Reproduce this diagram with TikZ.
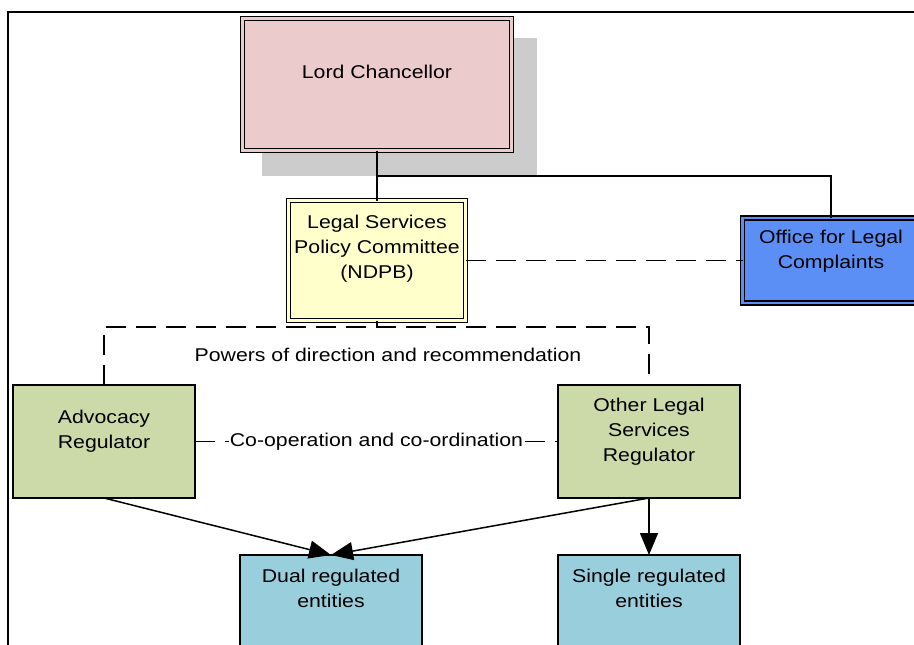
\documentclass[tikz,border=0pt]{standalone}
\usepackage{fontspec}
\setmainfont{Liberation Sans}[FakeStretch=1.15]
\usetikzlibrary{positioning,arrows.meta}
\definecolor{lcpink}{HTML}{EBCBCB}
\definecolor{lspyellow}{HTML}{FFFFCC}
\definecolor{olcblue}{HTML}{5B8FF5}
\definecolor{reggreen}{HTML}{CCDAAA}
\definecolor{entblue}{HTML}{99CFDC}
\definecolor{shadowgrey}{HTML}{CCCCCC}
\tikzset{
  box/.style={rectangle, draw, line width=1.5pt, outer sep=0pt, inner sep=0pt},
  dbox/.style={box, double distance=2.5pt},
  txt/.style={anchor=north, align=center, inner sep=0pt},
  dashline/.style={dash pattern=on 20pt off 10pt}
}

\begin{document}
\begin{tikzpicture}[x=1pt,y=-1pt,line width=1.5pt,>={Triangle[length=22pt,width=18pt]},font=\fontsize{18.5}{25}\selectfont]
  \clip (0,0) rectangle (914,645);
  \draw[line width=2pt] (8,645) -- (8,12) -- (914,12);
  \fill[shadowgrey] (262,38) rectangle (537,176);

  \node[dbox, fill=lcpink, double=lcpink, minimum width=269pt, minimum height=132pt] (lc) at (377,84.5) {};
  \node[txt, below=46pt of lc.north] (lc-text) {Lord Chancellor};
  \node[dbox, fill=lspyellow, double=lspyellow, minimum width=177pt, minimum height=120pt] (lspc) at (377,260.5) {};
  \node[txt, below=14pt of lspc.north] (lspc-text) {Legal Services\\Policy Committee\\(NDPB)};
  \node[dbox, fill=olcblue, double=olcblue, minimum width=177pt, minimum height=85pt] (olc) at (831,260.5) {};
  \node[txt, below=11pt of olc.north] (olc-text) {Office for Legal\\Complaints};
  \node[box, fill=reggreen, minimum width=182pt, minimum height=113pt] (ar) at (104,441.5) {};
  \node[txt, below=24.5pt of ar.north] (ar-text) {Advocacy\\Regulator};
  \node[box, fill=reggreen, minimum width=182pt, minimum height=113pt] (olsr) at (649,441.5) {};
  \node[txt, below=12pt of olsr.north] (olsr-text) {Other Legal\\Services\\Regulator};
  \node[box, fill=entblue, minimum width=182pt, minimum height=113pt] (dre) at (331,611.5) {};
  \node[txt, below=13.5pt of dre.north] (dre-text) {Dual regulated\\entities};
  \node[box, fill=entblue, minimum width=182pt, minimum height=113pt] (sre) at (649,611.5) {};
  \node[txt, below=13.5pt of sre.north] (sre-text) {Single regulated\\entities};

  \coordinate (split) at (377,176);
  \coordinate (powers-bar) at (377,327);
  \draw (lc.south) -- (lspc.north);
  \draw (split) -| (olc.north);
  \draw[dashline] (lspc.east) -- (olc.west);
  \draw (lspc.south) -- (powers-bar);
  \draw[dashline] (ar.north) |- (powers-bar) -| (olsr.north);
  \node (powers) at (388,355) {Powers of direction and recommendation};
  \draw[dashline] (ar.east) -- node[fill=white, inner xsep=1pt] (coop) {Co-operation and co-ordination} (olsr.west);
  \draw[->] (ar.south) -- (dre.north);
  \draw[->] (olsr.south) -- (dre.north);
  \draw[->] (olsr.south) -- (sre.north);
\end{tikzpicture}
\end{document}
